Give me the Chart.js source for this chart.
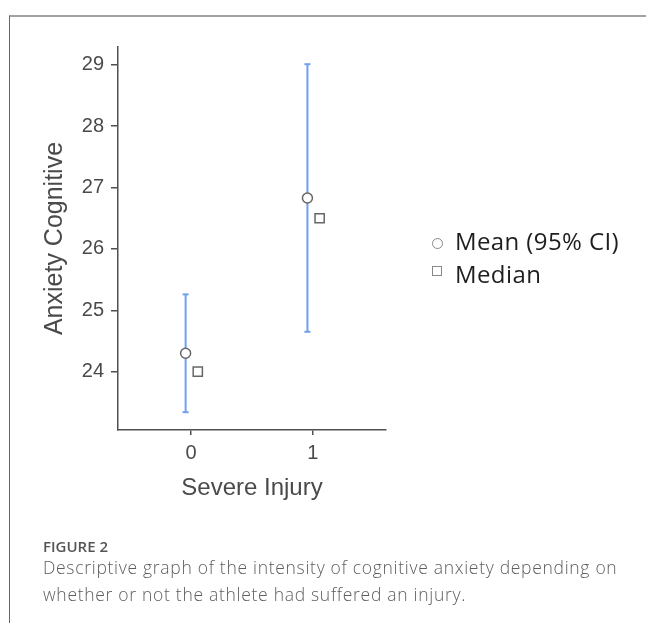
<!DOCTYPE html>
<html>
<head>
<meta charset="utf-8">
<script src="https://cdn.jsdelivr.net/npm/chart.js@4.4.1/dist/chart.umd.min.js"></script>
<style>
  html, body { margin: 0; padding: 0; background: #fff; }
  #wrap { position: relative; width: 646px; height: 623px; overflow: hidden; }
  #frame { position: absolute; left: 9px; top: 15px; right: 0; bottom: 0;
           border-top: 2px solid #a3a3a3; border-left: 1.5px solid #666; }
  #chart { position: absolute; left: 0; top: 0; }
  .legend { position: absolute; left: 431px; font-family: "Open Sans", sans-serif;
            font-size: 24px; line-height: 24px; letter-spacing: 0.4px; color: #1e1e1e; white-space: nowrap; }
  .sym { position: absolute; box-sizing: border-box; border: 1.5px solid #888; background: #fff; }
  .caption { position: absolute; left: 43px; font-family: "Open Sans", sans-serif; color: #666; white-space: nowrap; }
</style>
</head>
<body>
<div id="wrap">
  <div id="frame"></div>
  <canvas id="chart" width="646" height="623"></canvas>
  <div class="legend" style="top:229px"><span class="sym" style="left:1px;top:9px;width:11px;height:11px;border-radius:50%"></span><span style="margin-left:24px">Mean (95% CI)</span></div>
  <div class="legend" style="top:262px"><span class="sym" style="left:1px;top:4px;width:10px;height:10px"></span><span style="margin-left:24px">Median</span></div>
  <div class="caption" style="top:539px;font-size:15px;line-height:15px;font-weight:600;color:#555">FIGURE 2</div>
  <div class="caption" style="top:554px;font-size:17.5px;line-height:27px;font-weight:300;letter-spacing:0.7px;color:#5e5e5e">Descriptive graph of the intensity of cognitive anxiety depending on<br>whether or not the athlete had suffered an injury.</div>
</div>
<script>
// values
const groups = [0, 1];
const groupLabels = ['0', '1'];
const meanValues = [24.30, 26.83];
const ciLower = [23.34, 24.65];
const ciUpper = [25.26, 29.01];
const medianValues = [24.0, 26.5];
const yTicks = [24, 25, 26, 27, 28, 29];

// markers are nudged sideways a little, like in the original plot
const meanShift = -0.045;
const medianShift = 0.055;

const axisColor = '#505050';
const textColor = '#4a4a4a';
const barColor = '#6fa0ec';

const datasets = [];

datasets.push({
    type: 'scatter',
    label: 'Mean (95% CI)',
    data: groups.map((g, i) => ({ x: g + meanShift, y: meanValues[i] })),
    pointStyle: 'circle',
    pointRadius: 5,
    backgroundColor: '#fff',
    borderColor: '#666',
    borderWidth: 1.5
});

datasets.push({
    type: 'scatter',
    label: 'Median',
    data: groups.map((g, i) => ({ x: g + medianShift, y: medianValues[i] })),
    pointStyle: 'rect',
    pointRadius: 6.5,
    backgroundColor: '#fff',
    borderColor: '#666',
    borderWidth: 1.5
});

groups.forEach((g, i) => {
    datasets.push({
        type: 'line',
        label: 'CI ' + groupLabels[i],
        data: [{ x: g + meanShift, y: ciLower[i] }, { x: g + meanShift, y: ciUpper[i] }],
        borderColor: barColor,
        borderWidth: 2,
        pointStyle: 'line',
        pointRadius: 3,
        pointBorderWidth: 2,
        pointBorderColor: barColor,
        fill: false
    });
});

const ctx = document.getElementById('chart').getContext('2d');
new Chart(ctx, {
    type: 'scatter',
    data: { datasets: datasets },
    options: {
        responsive: false,
        animation: false,
        layout: { padding: { left: 0, right: 260, top: 47, bottom: 100 } },
        plugins: {
            legend: { display: false },
            tooltip: { enabled: false }
        },
        scales: {
            x: {
                type: 'linear',
                min: -0.6,
                max: 1.6,
                afterBuildTicks: (scale) => { scale.ticks = groups.map(v => ({ value: v })); },
                afterFit: (scale) => { scale.height = 93; },
                grid: { drawOnChartArea: false, drawTicks: true, tickLength: 5, color: axisColor, lineWidth: 1.5 },
                border: { display: true, color: axisColor, width: 1.5 },
                ticks: {
                    padding: 6,
                    color: textColor,
                    font: { family: '"Liberation Sans", Arial', size: 20 },
                    callback: (v) => groupLabels[groups.indexOf(v)]
                },
                title: {
                    display: true,
                    text: 'Severe Injury',
                    color: textColor,
                    font: { family: '"Liberation Sans", Arial', size: 24 },
                    padding: { top: 0, bottom: 20 }
                }
            },
            y: {
                type: 'linear',
                min: 23.05,
                max: 29.29,
                afterBuildTicks: (scale) => { scale.ticks = yTicks.map(v => ({ value: v })); },
                afterFit: (scale) => { scale.width = 118; },
                grid: { drawOnChartArea: false, drawTicks: true, tickLength: 7, color: axisColor, lineWidth: 1.5 },
                border: { display: true, color: axisColor, width: 1.5 },
                ticks: {
                    padding: 7,
                    color: textColor,
                    font: { family: '"Liberation Sans", Arial', size: 20 }
                },
                title: {
                    display: true,
                    text: 'Anxiety Cognitive',
                    color: textColor,
                    font: { family: '"Liberation Sans", Arial', size: 25 },
                    padding: { top: 40, bottom: 0 }
                }
            }
        }
    }
});
</script>
</body>
</html>
